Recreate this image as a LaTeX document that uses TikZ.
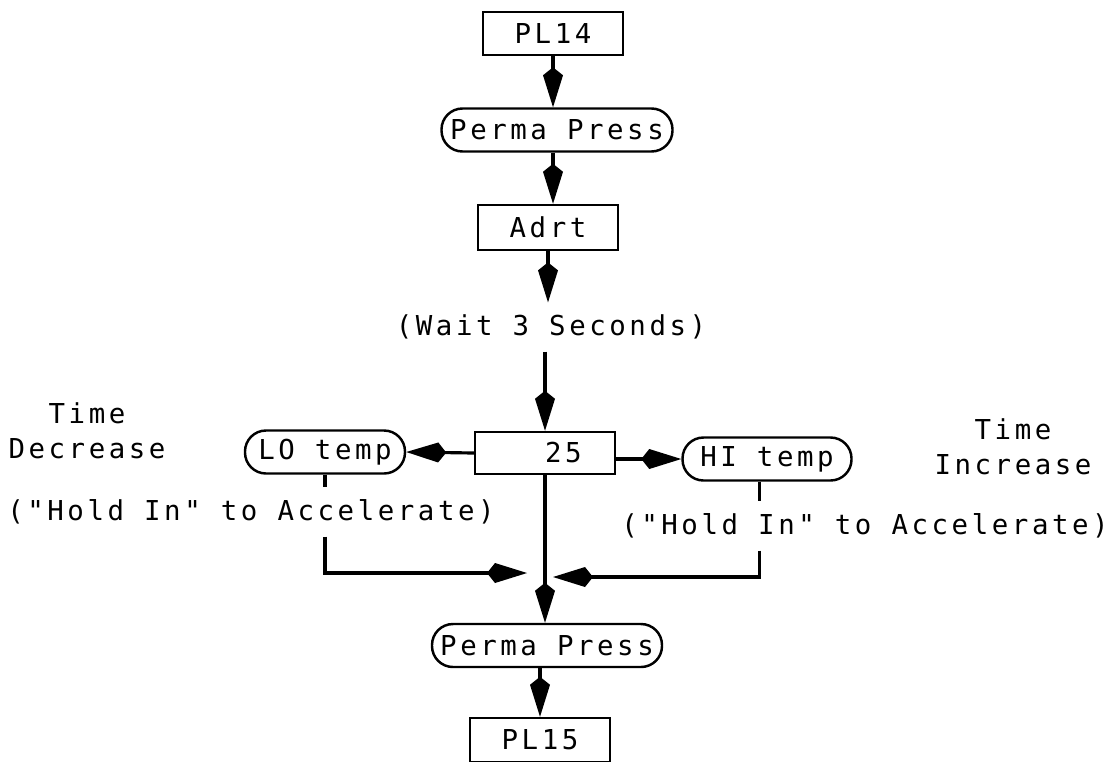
\documentclass[tikz,border=0pt]{standalone}
\usepackage{fontspec}
\setmainfont{DejaVu Sans Mono}[LetterSpace=13,Ligatures=TeXOff]
\usetikzlibrary{arrows.meta}

\begin{document}
\begin{tikzpicture}[x=0.1mm,y=-0.1mm,
  font=\fontsize{7.8}{10}\selectfont,
  box/.style={draw,line width=0.7pt,minimum width=14mm,minimum height=4.3mm,inner sep=0pt},
  pill/.style={draw,line width=0.7pt,rounded corners=2.1mm,minimum height=4.3mm,inner sep=0pt},
  flow/.style={line width=0.9pt,-{Kite[length=4mm,width=2mm,inset=0.8mm]}},
  feed/.style={line width=0.9pt}]

 \useasboundingbox (0,0) rectangle (1111,761);

 \node[box] (pltop) at (553,33.5) {PL14};
 \node[pill,minimum width=23.1mm] (permaA) at (557,130) {Perma Press};
 \node[box,minimum height=4.5mm] (adrt) at (548,227.5) {Adrt};
 \node (waittxt) at (551,327) {(Wait 3 Seconds)};
 \node[box,minimum height=4.2mm] (setbox) at (545,453) {\phantom{00}25};
 \node[pill,minimum width=16mm] (lotemp) at (325,452) {LO temp};
 \node[pill,minimum width=16.9mm] (hitemp) at (767,459) {HI temp};
 \node[align=center] (decr) at (87,431) {Time\\Decrease};
 \node[align=center] (incr) at (1013,447) {Time\\Increase};
 \node (holdlo) at (251,512) {("Hold In" to Accelerate)};
 \node (holdhi) at (865,526) {("Hold In" to Accelerate)};
 \node[pill,minimum width=23mm] (permaB) at (547,645.5) {Perma Press};
 \node[box,minimum height=4.4mm] (plbot) at (540,740) {PL15};
 \coordinate (lojoin) at (527,573);
 \coordinate (hijoin) at (553,577);
 \coordinate (hidrop) at ([xshift=-0.75mm]hitemp.south);

 \draw[flow] (pltop.south) -- (pltop.south |- permaA.north);
 \draw[flow] (pltop.south |- permaA.south) -- (pltop.south |- adrt.north);
 \draw[flow] (adrt.south) -- (adrt.south |- waittxt.north);
 \draw[flow] (setbox.north |- waittxt.south) -- (setbox.north);
 \draw[flow] (setbox.west) -- (lotemp.east);
 \draw[flow] (setbox.east |- hitemp.west) -- (hitemp.west);
 \draw[flow] (setbox.south) -- (setbox.south |- permaB.north);
 \draw[flow] (plbot.north |- permaB.south) -- (plbot.north);
 \draw[feed] (lotemp.south) -- (lotemp.south |- holdlo.north);
 \draw[flow] (lotemp.south |- holdlo.south) -- (lotemp.south |- lojoin) -- (lojoin);
 \draw[feed] (hidrop) -- (hidrop |- holdhi.north);
 \draw[flow] (hidrop |- holdhi.south) -- (hidrop |- hijoin) -- (hijoin);

\end{tikzpicture}
\end{document}
